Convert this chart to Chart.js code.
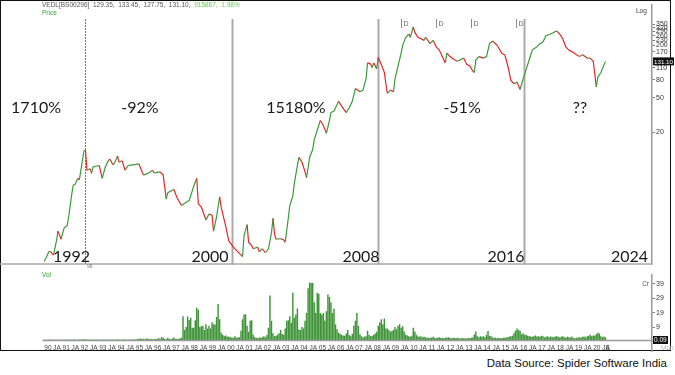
<!DOCTYPE html>
<html>
<head>
<meta charset="utf-8">
<script src="https://cdn.jsdelivr.net/npm/chart.js@4.4.1/dist/chart.umd.min.js"></script>
<style>
  html, body { margin: 0; padding: 0; background: #fff; }
  #wrap { position: relative; width: 675px; height: 375px; overflow: hidden; font-family: 'Liberation Sans', Arial, sans-serif; }
  canvas { position: absolute; left: 0; }
  #price { top: 0; }
  #vol { top: 270px; }
  #frame { position: absolute; left: 0; top: 0; width: 669px; height: 349px; border: 1.5px solid #111; }
  .lbl { position: absolute; white-space: nowrap; font-size: 6.5px; color: #555; }
  #source { position: absolute; right: 8px; top: 357px; font-size: 11.5px; color: #111; }
</style>
</head>
<body>
<div id="wrap">
  <div id="frame"></div>
  <canvas id="price" width="675" height="270"></canvas>
  <canvas id="vol" width="675" height="82"></canvas>
  <div class="lbl" style="left:42px;top:1px;">VEDL[BS00296]&nbsp; 129.35,&nbsp; 133.45,&nbsp; 127.75,&nbsp; 131.10,&nbsp; <span style="color:#66cc55">915867,&nbsp; 1.98%</span></div>
  <div class="lbl" style="left:42px;top:9px;color:#3a9b3a;">Price</div>
  <div class="lbl" style="left:42px;top:271px;color:#3a9b3a;">Vol</div>
  <div class="lbl" style="left:636px;top:7px;color:#444;">Log</div>
  <div id="source">Data Source: Spider Software India</div>
</div>
<script>
// monthly closes (VEDL, log scale)
const priceDates = [
  '1990-01','1990-04','1990-05','1990-07','1990-09','1990-10','1990-12',
  '1991-02','1991-04','1991-05','1991-07','1991-08','1991-09','1991-11','1991-12',
  '1992-03','1992-04','1992-05','1992-07','1992-08','1992-09',
  '1993-01','1993-03','1993-05','1993-07','1993-08','1993-10','1993-11',
  '1994-01','1994-02','1994-04','1994-06','1994-08','1994-11',
  '1995-03','1995-06','1995-09','1995-12',
  '1996-01','1996-05','1996-07','1996-09','1996-10',
  '1997-02','1997-04','1997-07','1997-10','1997-12',
  '1998-03','1998-05','1998-06','1998-08','1998-11',
  '1999-01','1999-03','1999-04','1999-06','1999-08','1999-09','1999-12',
  '2000-02','2000-05','2000-08','2000-11','2000-12',
  '2001-02','2001-03','2001-05','2001-06','2001-09','2001-10','2001-12',
  '2002-02','2002-04','2002-06','2002-07','2002-08','2002-09','2002-12',
  '2003-02','2003-03','2003-05','2003-06','2003-08','2003-09','2003-11','2003-12',
  '2004-02','2004-04','2004-05','2004-07','2004-09','2004-10','2004-12',
  '2005-02','2005-04','2005-06','2005-08','2005-09','2005-11',
  '2006-02','2006-04','2006-07','2006-09','2006-11',
  '2007-01','2007-04','2007-06','2007-08','2007-09','2007-11','2007-12',
  '2008-01','2008-03','2008-04','2008-06','2008-08','2008-09','2008-10','2008-12',
  '2009-02','2009-03','2009-05','2009-07','2009-08','2009-10','2009-12',
  '2010-01','2010-03','2010-04','2010-06','2010-08','2010-10','2010-11',
  '2011-02','2011-04','2011-06','2011-08','2011-10','2011-12',
  '2012-01','2012-03','2012-06','2012-08','2012-12',
  '2013-02','2013-04','2013-06','2013-07','2013-08','2013-10',
  '2014-01','2014-03','2014-05','2014-07','2014-10',
  '2015-01','2015-03','2015-05','2015-07','2015-09','2015-11',
  '2016-01','2016-03','2016-05','2016-07','2016-09','2016-12',
  '2017-02','2017-04','2017-06','2017-09','2017-11',
  '2018-01','2018-03','2018-05','2018-07','2018-09','2018-11',
  '2019-02','2019-04','2019-06','2019-09','2019-11',
  '2020-01','2020-03','2020-04','2020-06','2020-09'
];
const priceValues = [
  0.64, 0.83, 0.84, 0.76, 1.11, 1.44, 1.16,
  1.56, 1.66, 2.11, 3.83, 4.94, 4.91, 5.86, 5.61,
  12.1, 12.4, 7.25, 7.57, 6.67, 7.91,
  8.24, 5.86, 7.91, 9.36, 9.78, 8.39, 8.75,
  10.6, 8.99, 9.36, 7.25, 8.24, 8.39,
  8.61, 6.38, 6.67, 7.25,
  6.78, 6.96, 6.38, 3.37, 4.0,
  4.35, 3.52, 2.84, 3.10, 3.24,
  4.74, 5.86, 2.97, 2.72, 1.94,
  2.26, 2.20, 1.44, 2.11, 3.58, 2.72, 1.63,
  1.11, 0.94, 0.83, 0.73, 1.27,
  1.71, 1.07, 0.98, 0.90, 0.94, 0.83, 0.90,
  0.81, 0.90, 1.38, 2.02, 1.32, 1.16, 1.18,
  1.14, 1.07, 2.02, 2.84, 3.67, 5.16, 8.24, 10.2,
  8.99, 6.96, 5.97, 10.2, 12.6, 16.3, 21.0,
  27.2, 23.9, 19.4, 27.2, 33.6, 35.1,
  45.3, 39.9, 33.6, 38.2, 45.3,
  63.7, 58.5, 61.1, 82.2, 126, 122, 111,
  126, 108, 146, 121, 97.5, 72.3, 56.0, 61.1,
  58.5, 82.2, 116, 163, 201, 249, 271,
  249, 327, 283, 249, 239, 229, 249,
  210, 229, 193, 177, 149, 126,
  163, 149, 137, 131.5, 143,
  121, 116, 102, 97.5, 137, 149,
  143, 149, 210, 225, 201,
  163, 156, 116, 78.9, 72.3, 75.5,
  62.1, 82.2, 106, 137, 177, 193,
  210, 219, 259, 271, 283,
  295, 271, 239, 193, 177, 170,
  156, 149, 156, 143, 143,
  131.5, 66.5, 85.9, 97.5, 131.1
];

// monthly volume in Cr, Jan 1990 .. Sep 2020, one year per line
const volumeStart = '1990-01';
const volume = [
  0.2,0.2,0.2,0.3,0.2,0.2,0.3,0.2,0.2,0.3,0.2,0.2,
  0.3,0.2,0.3,0.3,0.2,0.3,0.2,0.3,0.3,0.2,0.3,0.3,
  0.4,0.3,0.5,0.4,0.3,0.3,0.2,0.3,0.3,0.2,0.3,0.3,
  0.2,0.3,0.2,0.3,0.3,0.2,0.3,0.2,0.3,0.3,0.2,0.3,
  0.3,0.3,0.2,0.3,0.4,0.3,0.3,0.2,0.3,0.3,0.4,0.3,
  0.4,0.6,0.8,1.1,0.7,0.9,0.6,1.0,0.8,0.5,0.7,0.6,
  0.5,0.7,0.9,1.2,0.8,2.1,1.4,0.9,0.6,1.5,0.8,0.6,
  1.0,1.7,0.8,0.9,0.7,1.2,1.5,16.6,7.0,9.0,16.4,14.0,
  15.5,8.6,8.6,13.8,22.4,21.0,9.0,9.5,10.0,7.0,11.0,8.0,
  10.0,8.0,12.3,11.0,10.8,16.0,25.0,14.4,5.0,3.7,2.6,3.2,
  2.2,2.5,2.0,1.8,1.5,2.6,1.5,2.0,2.0,6.5,14.4,17.7,
  18.0,10.0,5.8,13.4,13.8,3.7,2.0,1.5,1.2,1.8,1.5,2.0,
  2.6,2.0,3.5,8.6,31.0,13.4,4.7,2.6,3.0,3.7,4.7,7.0,
  4.3,3.7,8.0,13.4,13.8,16.6,12.0,32.8,15.5,17.7,22.0,7.3,
  7.0,9.0,8.0,13.4,18.8,36.0,40.0,39.6,39.6,26.3,18.8,32.8,
  32.0,18.8,17.7,18.8,13.4,20.0,31.7,30.0,26.3,18.8,22.0,11.0,
  7.5,5.0,4.3,3.5,3.2,3.0,4.5,7.0,3.5,2.6,4.3,10.0,
  13.4,18.8,10.0,4.0,2.6,1.8,2.5,2.6,6.5,3.7,2.6,3.0,
  3.7,4.5,5.8,10.0,12.3,14.4,11.0,15.0,8.0,8.0,7.0,5.8,
  6.5,7.0,9.0,7.5,10.0,11.0,8.6,9.5,6.0,3.7,3.2,2.6,
  2.2,3.0,8.6,6.0,3.7,2.6,2.2,2.6,2.0,2.3,2.0,1.6,
  1.6,1.4,1.8,2.2,1.5,1.3,1.6,1.9,1.4,1.5,1.2,1.6,
  1.7,2.0,1.5,1.3,1.6,1.4,1.2,1.5,1.3,1.1,1.4,1.2,
  1.3,1.1,1.4,1.2,1.5,1.8,3.9,6.0,2.6,2.0,2.6,2.2,
  2.6,2.0,3.7,6.3,3.0,2.6,1.8,1.6,1.5,1.3,1.4,1.2,
  1.3,1.5,1.6,1.8,2.0,2.4,2.6,3.0,4.7,6.5,8.0,7.0,
  6.5,4.0,4.7,3.5,3.7,3.0,2.6,2.4,2.2,2.6,3.2,2.5,
  2.6,2.2,3.0,2.6,1.8,2.2,2.6,2.0,2.4,2.2,2.0,2.4,
  2.6,2.2,1.8,2.2,2.6,2.0,1.6,2.2,2.0,1.8,2.4,1.4,
  1.3,1.6,1.8,2.0,1.6,2.2,2.4,2.0,2.6,3.0,3.7,2.6,
  3.2,3.0,4.0,5.0,4.5,2.6,2.0,2.4,2.0
];

const priceTicks = [20, 50, 80, 110, 170, 200, 230, 260, 290, 320, 350];
const volumeTicks = [9, 19, 29, 39];
const xTickDates = ['1990-01','1991-01','1992-01','1993-01','1994-01','1995-01','1996-01','1997-01','1998-01','1999-01',
  '2000-01','2001-01','2002-01','2003-01','2004-01','2005-01','2006-01','2007-01','2008-01','2009-01',
  '2010-01','2011-01','2012-01','2013-01','2014-01','2015-01','2016-01','2017-01','2018-01','2019-01','2020-01','2020-09'];
const xTickLabels = ['90 JA','91 JA','92 JA','93 JA','94 JA','95 JA','96 JA','97 JA','98 JA','99 JA',
  '00 JA','01 JA','02 JA','03 JA','04 JA','05 JA','06 JA','07 JA','08 JA','09 JA',
  '10 JA','11 JA','12 JA','13 JA','14 JA','15 JA','16 JA','17 JA','18 JA','19 JA','20 JA','S'];

const periodLabels = ['1710%', '-92%', '15180%', '-51%', '??'];
const yearLabels = ['1992', '2000', '2008', '2016', '2024'];
const lastPrice = 131.10;
const lastVolume = 0.09;

const GREEN = '#3a9b3a', RED = '#e3272b';
const X_MIN = 1987.69, X_MAX = 2023.21;
const toYear = s => Number(s.slice(0, 4)) + (Number(s.slice(5, 7)) - 1) / 12;

Chart.defaults.font.family = "'Liberation Sans', Arial, sans-serif";

// where the annotations sit (decimal year / price)
const splitYears = [1992.22, 2000.26, 2008.24, 2016.22];
const periodPos = [1989.55, 1995.23, 2003.75, 2012.83, 2019.27];
const yearPos = [1991.49, 1999.06, 2007.31, 2015.23, 2021.98];
const divYears = [2009.49, 2011.40, 2013.32, 2015.78];

const priceDecor = {
  id: 'priceDecor',
  beforeDatasetsDraw(chart) {
    const { ctx, chartArea: a, scales: { x } } = chart;
    ctx.save();
    ctx.strokeStyle = '#aaa';
    ctx.lineWidth = 1.5;
    ctx.beginPath();
    ctx.moveTo(0, a.bottom - 0.75);
    ctx.lineTo(a.right, a.bottom - 0.75);
    ctx.stroke();
    splitYears.forEach((yr, i) => {
      const px = Math.round(x.getPixelForValue(yr)) + 0.5;
      ctx.beginPath();
      if (i === 0) {
        ctx.setLineDash([2, 1]);
        ctx.strokeStyle = '#777';
        ctx.lineWidth = 1;
      } else {
        ctx.setLineDash([]);
        ctx.strokeStyle = '#aaa';
        ctx.lineWidth = 2;
      }
      ctx.moveTo(px, 19);
      ctx.lineTo(px, a.bottom);
      ctx.stroke();
    });
    ctx.setLineDash([]);
    // dividend marks
    ctx.font = '7px "Liberation Sans"';
    ctx.fillStyle = '#666';
    ctx.strokeStyle = '#888';
    ctx.lineWidth = 1;
    divYears.forEach(yr => {
      const px = Math.round(x.getPixelForValue(yr)) + 0.5;
      ctx.beginPath();
      ctx.moveTo(px, 19);
      ctx.lineTo(px, 28);
      ctx.stroke();
      ctx.textBaseline = 'middle';
      ctx.fillText('D', px + 2, 24);
    });
    ctx.restore();
  },
  afterDatasetsDraw(chart) {
    const { ctx, chartArea: a, scales: { x, y } } = chart;
    ctx.save();
    ctx.fillStyle = '#1a1a1a';
    ctx.font = '16px Lato';
    ctx.textAlign = 'center';
    ctx.textBaseline = 'middle';
    periodLabels.forEach((t, i) => ctx.fillText(t, x.getPixelForValue(periodPos[i]), y.getPixelForValue(37.9)));
    yearLabels.forEach((t, i) => ctx.fillText(t, x.getPixelForValue(yearPos[i]), y.getPixelForValue(0.72)));
    ctx.font = '5px "Liberation Sans"';
    ctx.fillStyle = '#777';
    ctx.textAlign = 'left';
    ctx.fillText('96', x.getPixelForValue(splitYears[0]) + 2, 267);
    // last price box
    const py = y.getPixelForValue(lastPrice);
    ctx.fillStyle = '#111';
    ctx.fillRect(a.right + 1, py - 4, 21, 8);
    ctx.fillStyle = '#fff';
    ctx.font = '6.2px "Liberation Sans"';
    ctx.fillText(lastPrice.toFixed(2), a.right + 2, py + 0.5);
    ctx.restore();
  }
};

new Chart(document.getElementById('price'), {
  type: 'line',
  data: {
    datasets: [{
      data: priceDates.map((d, i) => ({ x: toYear(d), y: priceValues[i] })),
      borderColor: GREEN,
      borderWidth: 1.2,
      pointRadius: 0,
      tension: 0,
      segment: { borderColor: c => (c.p1.parsed.y >= c.p0.parsed.y ? GREEN : RED) }
    }]
  },
  options: {
    responsive: false,
    animation: false,
    layout: { padding: { left: 2, top: 0, right: 0, bottom: 0 } },
    plugins: { legend: { display: false }, tooltip: { enabled: false } },
    scales: {
      x: { type: 'linear', min: X_MIN, max: X_MAX, display: false },
      y: {
        type: 'logarithmic',
        position: 'right',
        min: 0.588,
        max: 583.5,
        afterFit: s => { s.width = 23; },
        afterBuildTicks: s => { s.ticks = priceTicks.map(v => ({ value: v })); },
        ticks: { autoSkip: false, font: { size: 7 }, color: '#333', padding: 1, callback: v => String(v) },
        grid: { drawOnChartArea: false, tickLength: 3, color: '#777' },
        border: { display: true, color: '#999', width: 1.5 }
      }
    }
  },
  plugins: [priceDecor]
});

const volDecor = {
  id: 'volDecor',
  afterDraw(chart) {
    const { ctx, chartArea: a, scales: { x, y } } = chart;
    ctx.save();
    ctx.strokeStyle = '#999';
    ctx.lineWidth = 1.5;
    ctx.beginPath();
    ctx.moveTo(x.getPixelForValue(1989.9), a.bottom + 0.5);
    ctx.lineTo(a.right, a.bottom + 0.5);
    ctx.moveTo(a.right - 0.25, a.bottom);
    ctx.lineTo(a.right - 0.25, chart.height);
    ctx.stroke();
    // time axis labels, placed through the x scale
    ctx.font = '6.5px "Liberation Sans"';
    ctx.fillStyle = '#444';
    ctx.textAlign = 'left';
    ctx.textBaseline = 'middle';
    xTickDates.forEach((d, i) => ctx.fillText(xTickLabels[i], x.getPixelForValue(toYear(d)), a.bottom + 8));
    const by = y.getPixelForValue(0);
    ctx.fillStyle = '#111';
    ctx.fillRect(a.right + 1, by - 4, 15, 8);
    ctx.fillStyle = '#fff';
    ctx.font = '6.5px "Liberation Sans"';
    ctx.fillText(lastVolume.toFixed(2), a.right + 2, by + 0.5);
    ctx.fillStyle = '#555';
    ctx.textAlign = 'right';
    ctx.fillText('Cr', a.right - 3, y.getPixelForValue(39));
    ctx.fillStyle = '#bbb';
    ctx.textAlign = 'left';
    ctx.fillText('Mon', a.right + 9, a.bottom + 8);
    ctx.restore();
  }
};

const volStart = toYear(volumeStart);
new Chart(document.getElementById('vol'), {
  type: 'bar',
  data: {
    datasets: [{
      data: volume.map((v, i) => ({ x: volStart + i / 12, y: v })),
      backgroundColor: '#3f9438',
      borderWidth: 0,
      barPercentage: 0.95,
      categoryPercentage: 1
    }]
  },
  options: {
    responsive: false,
    animation: false,
    layout: { padding: { left: 2, top: 0, right: 0, bottom: 0 } },
    plugins: { legend: { display: false }, tooltip: { enabled: false } },
    scales: {
      x: {
        type: 'linear',
        min: X_MIN,
        max: X_MAX,
        offset: false,
        afterFit: s => { s.height = 12; },
        ticks: { display: false },
        grid: { display: false },
        border: { display: false }
      },
      y: {
        position: 'right',
        min: 0,
        max: 45.1,
        afterFit: s => { s.width = 23; },
        afterBuildTicks: s => { s.ticks = volumeTicks.map(v => ({ value: v })); },
        ticks: { autoSkip: false, font: { size: 7 }, color: '#333', padding: 1 },
        grid: { drawOnChartArea: false, tickLength: 3, color: '#777' },
        border: { display: true, color: '#999', width: 1.5 }
      }
    }
  },
  plugins: [volDecor]
});
</script>
</body>
</html>
